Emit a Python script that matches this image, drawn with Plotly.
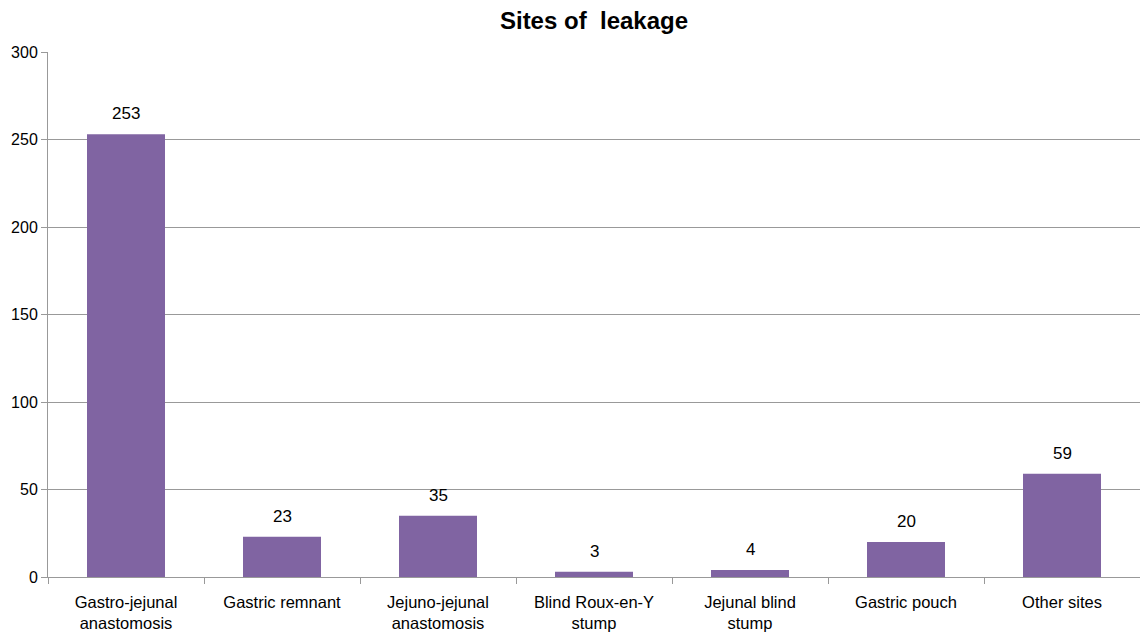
import plotly.graph_objects as go

categories = ["Gastro-jejunal<br>anastomosis", "Gastric remnant", "Jejuno-jejunal<br>anastomosis",
              "Blind Roux-en-Y<br>stump", "Jejunal blind<br>stump", "Gastric pouch", "Other sites"]
values = [253, 23, 35, 3, 4, 20, 59]
yticks = [0, 50, 100, 150, 200, 250, 300]

fig = go.Figure(go.Bar(
    x=categories, y=values, marker_color="#8064A2", marker_line_width=0,
))
for c, v in zip(categories, values):
    fig.add_annotation(x=c, y=v, text=str(v), showarrow=False, yanchor="bottom",
                       yshift=9, font=dict(size=17, color="#000000"))
fig.update_layout(
    width=1140, height=632,
    margin=dict(l=48, r=0, t=52, b=55),
    paper_bgcolor="white", plot_bgcolor="white",
    font=dict(family="Liberation Sans, Arial, sans-serif", color="#000000", size=16),
    title=dict(text="<b>Sites of\u00a0 leakage</b>", x=0.5, xref="paper", xanchor="center",
               y=0.967, yanchor="middle", font=dict(size=24, color="#000000")),
    bargap=0.5, showlegend=False,
)
fig.update_xaxes(tickson="boundaries", ticks="outside", ticklen=6, tickcolor="#999999",
                 showline=True, linecolor="#999999", linewidth=1, showgrid=False,
                 tickfont=dict(size=16.5), ticklabelstandoff=10)
fig.update_yaxes(range=[0, 300], tickvals=yticks, ticks="outside", ticklen=6, tickcolor="#999999",
                 showline=True, linecolor="#999999", linewidth=1, gridcolor="#999999", gridwidth=1,
                 zeroline=False, tickfont=dict(size=16))
fig.write_html("out.html")
